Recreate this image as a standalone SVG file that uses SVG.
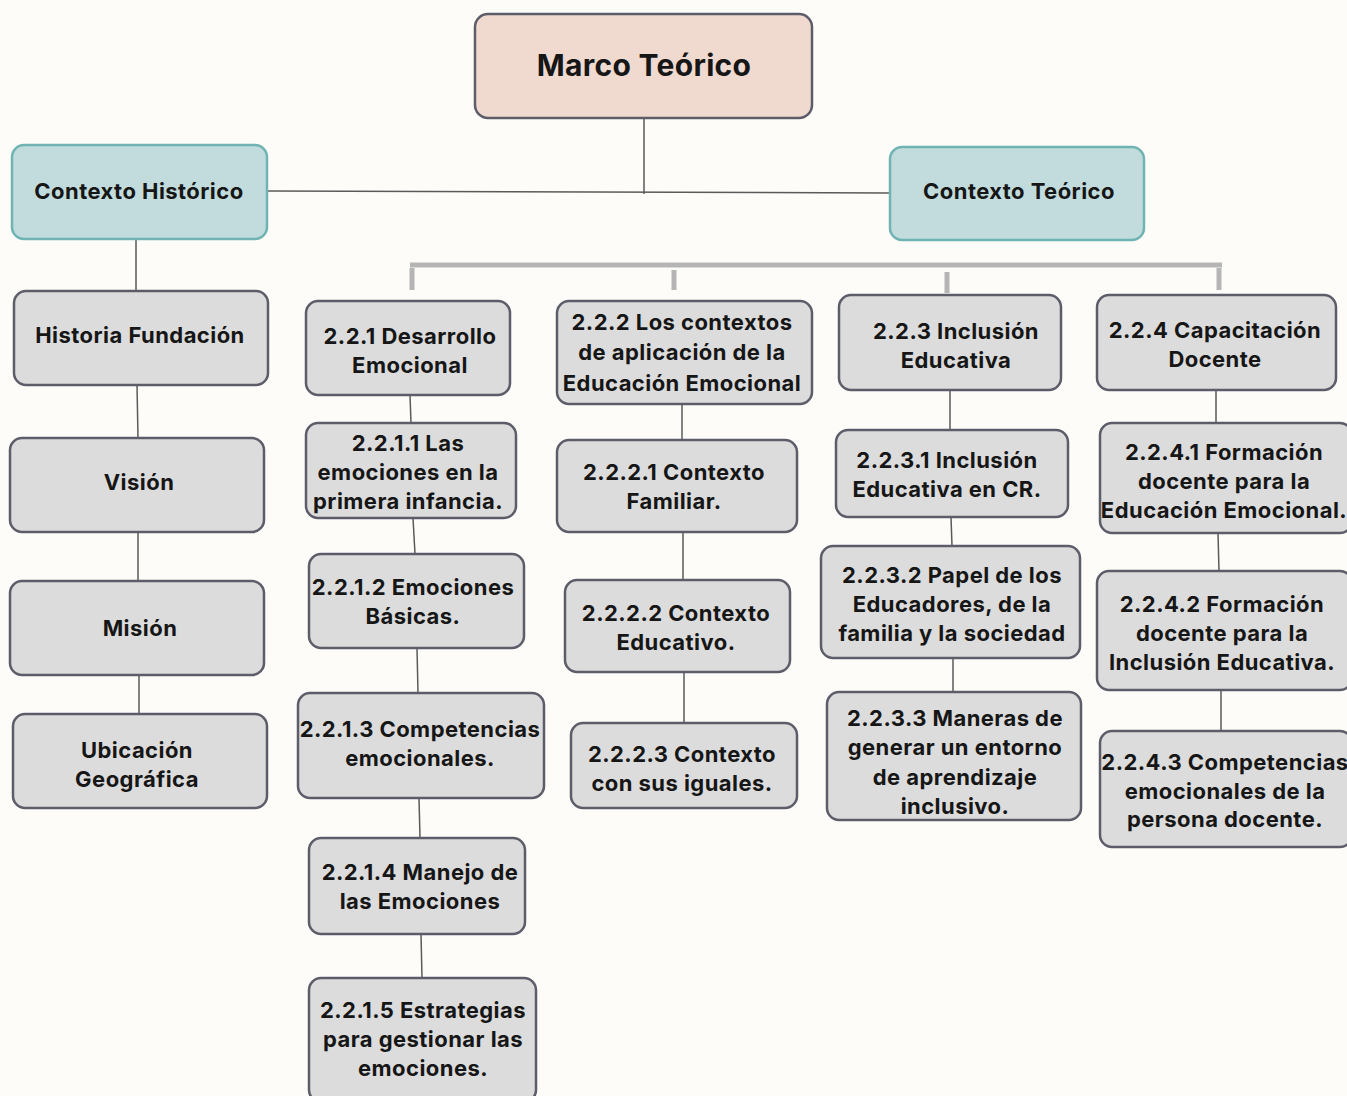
<svg xmlns="http://www.w3.org/2000/svg" width="1347" height="1096" viewBox="0 0 1347 1096">
<style>
.n rect{fill:#dcdcdd;stroke:#5d5d6a;stroke-width:2.5}
.t{font-family:Inter,"Noto Sans","Liberation Sans",sans-serif;font-weight:700;font-size:22px;letter-spacing:0.45px;fill:#161616;text-anchor:middle;dominant-baseline:central}
.c line{stroke:#5a5a5a;stroke-width:1.5}
.bus line{stroke:#b5b5b5;stroke-width:5}
</style>
<rect width="1347" height="1096" fill="#fdfcf9"/>
<g class="c" id="connectors">
<line x1="644" y1="118" x2="644" y2="194"/>
<line x1="267" y1="191" x2="890" y2="193"/>
<line x1="136" y1="239" x2="136" y2="291"/>
<line x1="137" y1="385" x2="138" y2="438"/>
<line x1="138" y1="532" x2="138" y2="581"/>
<line x1="139" y1="675" x2="139" y2="714"/>
<line x1="410" y1="395" x2="411" y2="423"/>
<line x1="413" y1="518" x2="415" y2="554"/>
<line x1="417" y1="648" x2="418" y2="693"/>
<line x1="419" y1="798" x2="420" y2="838"/>
<line x1="421" y1="934" x2="422" y2="978"/>
<line x1="682" y1="404" x2="682" y2="440"/>
<line x1="683" y1="532" x2="683" y2="580"/>
<line x1="684" y1="672" x2="684" y2="723"/>
<line x1="950" y1="390" x2="950" y2="430"/>
<line x1="951" y1="517" x2="952" y2="546"/>
<line x1="953" y1="658" x2="953" y2="692"/>
<line x1="1216" y1="390" x2="1216" y2="423"/>
<line x1="1218" y1="533" x2="1219" y2="571"/>
<line x1="1221" y1="690" x2="1221" y2="731"/>
<g class="bus">
<line x1="410" y1="265" x2="1222" y2="265"/>
<line x1="412" y1="268" x2="412" y2="290"/>
<line x1="674" y1="270" x2="674" y2="290"/>
<line x1="947" y1="272" x2="947" y2="293"/>
<line x1="1219" y1="268" x2="1219" y2="290"/>
</g>
</g>
<g id="marco"><rect x="475" y="14" width="337" height="104" rx="13" fill="#f0dad0" stroke="#5d5d6a" stroke-width="2.5"/><text class="t" x="644" y="65" style="font-size:30px;letter-spacing:0.3px">Marco Teórico</text></g>
<g id="ctx-hist"><rect x="12" y="145" width="255" height="94" rx="12" fill="#c2dcdd" stroke="#6fb3b3" stroke-width="2.5"/><text class="t" x="139" y="191">Contexto Histórico</text></g>
<g id="ctx-teor"><rect x="890" y="147" width="254" height="93" rx="12" fill="#c2dcdd" stroke="#6fb3b3" stroke-width="2.5"/><text class="t" x="1019" y="191">Contexto Teórico</text></g>
<g id="historia" class="n"><rect x="14" y="291" width="254" height="94" rx="12"/><text class="t" x="140" y="335">Historia Fundación</text></g>
<g id="vision" class="n"><rect x="10" y="438" width="254" height="94" rx="12"/><text class="t" x="139" y="482">Visión</text></g>
<g id="mision" class="n"><rect x="10" y="581" width="254" height="94" rx="12"/><text class="t" x="140" y="628">Misión</text></g>
<g id="ubicacion" class="n"><rect x="13" y="714" width="254" height="94" rx="12"/><text class="t" x="137" y="750">Ubicación</text><text class="t" x="137" y="779">Geográfica</text></g>
<g id="n221" class="n"><rect x="306" y="301" width="204" height="94" rx="12"/><text class="t" x="410" y="336">2.2.1 Desarrollo</text><text class="t" x="410" y="365">Emocional</text></g>
<g id="n2211" class="n"><rect x="306" y="423" width="210" height="95" rx="12"/><text class="t" x="408" y="443">2.2.1.1 Las</text><text class="t" x="408" y="472">emociones en la</text><text class="t" x="408" y="501">primera infancia.</text></g>
<g id="n2212" class="n"><rect x="309" y="554" width="215" height="94" rx="12"/><text class="t" x="413" y="587">2.2.1.2 Emociones</text><text class="t" x="413" y="616">Básicas.</text></g>
<g id="n2213" class="n"><rect x="298" y="693" width="246" height="105" rx="12"/><text class="t" x="420" y="729">2.2.1.3 Competencias</text><text class="t" x="420" y="758">emocionales.</text></g>
<g id="n2214" class="n"><rect x="309" y="838" width="216" height="96" rx="12"/><text class="t" x="420" y="872">2.2.1.4 Manejo de</text><text class="t" x="420" y="901">las Emociones</text></g>
<g id="n2215" class="n"><rect x="309" y="978" width="227" height="124" rx="12"/><text class="t" x="423" y="1010">2.2.1.5 Estrategias</text><text class="t" x="423" y="1039">para gestionar las</text><text class="t" x="423" y="1068">emociones.</text></g>
<g id="n222" class="n"><rect x="557" y="301" width="255" height="103" rx="12"/><text class="t" x="682" y="322">2.2.2 Los contextos</text><text class="t" x="682" y="352">de aplicación de la</text><text class="t" x="682" y="383">Educación Emocional</text></g>
<g id="n2221" class="n"><rect x="557" y="440" width="240" height="92" rx="12"/><text class="t" x="674" y="472">2.2.2.1 Contexto</text><text class="t" x="674" y="501">Familiar.</text></g>
<g id="n2222" class="n"><rect x="565" y="580" width="225" height="92" rx="12"/><text class="t" x="676" y="613">2.2.2.2 Contexto</text><text class="t" x="676" y="642">Educativo.</text></g>
<g id="n2223" class="n"><rect x="571" y="723" width="226" height="85" rx="12"/><text class="t" x="682" y="754">2.2.2.3 Contexto</text><text class="t" x="682" y="783">con sus iguales.</text></g>
<g id="n223" class="n"><rect x="839" y="295" width="222" height="95" rx="12"/><text class="t" x="956" y="331">2.2.3 Inclusión</text><text class="t" x="956" y="360">Educativa</text></g>
<g id="n2231" class="n"><rect x="836" y="430" width="232" height="87" rx="12"/><text class="t" x="947" y="460">2.2.3.1 Inclusión</text><text class="t" x="947" y="489">Educativa en CR.</text></g>
<g id="n2232" class="n"><rect x="821" y="546" width="259" height="112" rx="12"/><text class="t" x="952" y="575">2.2.3.2 Papel de los</text><text class="t" x="952" y="604">Educadores, de la</text><text class="t" x="952" y="633">familia y la sociedad</text></g>
<g id="n2233" class="n"><rect x="827" y="692" width="254" height="128" rx="12"/><text class="t" x="955" y="718">2.2.3.3 Maneras de</text><text class="t" x="955" y="747">generar un entorno</text><text class="t" x="955" y="777">de aprendizaje</text><text class="t" x="955" y="806">inclusivo.</text></g>
<g id="n224" class="n"><rect x="1097" y="295" width="239" height="95" rx="12"/><text class="t" x="1215" y="330">2.2.4 Capacitación</text><text class="t" x="1215" y="359">Docente</text></g>
<g id="n2241" class="n"><rect x="1100" y="423" width="252" height="110" rx="12"/><text class="t" x="1224" y="452">2.2.4.1 Formación</text><text class="t" x="1224" y="481">docente para la</text><text class="t" x="1224" y="510">Educación Emocional.</text></g>
<g id="n2242" class="n"><rect x="1097" y="571" width="255" height="119" rx="12"/><text class="t" x="1222" y="604">2.2.4.2 Formación</text><text class="t" x="1222" y="633">docente para la</text><text class="t" x="1222" y="662">Inclusión Educativa.</text></g>
<g id="n2243" class="n"><rect x="1100" y="731" width="252" height="116" rx="12"/><text class="t" x="1225" y="762">2.2.4.3 Competencias</text><text class="t" x="1225" y="791">emocionales de la</text><text class="t" x="1225" y="819">persona docente.</text></g>
</svg>
